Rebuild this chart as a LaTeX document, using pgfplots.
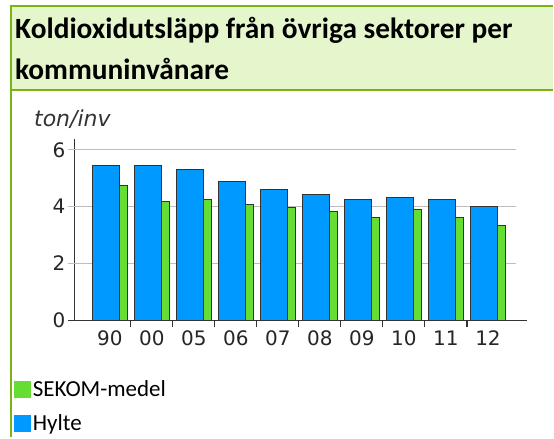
\documentclass[border=0pt]{standalone}
\usepackage{fontspec}
\setmainfont{Carlito}
\newfontfamily\dejavu{DejaVu Sans}
\usepackage{pgfplots}
\pgfplotsset{compat=1.18}
\definecolor{blueH}{RGB}{0,153,255}
\definecolor{greenS}{RGB}{102,221,51}
\definecolor{titlebg}{RGB}{230,246,204}
\definecolor{bordergreen}{RGB}{125,178,22}
\definecolor{gridgray}{RGB}{190,190,190}
\begin{document}
\begin{tikzpicture}[x=1pt,y=1pt]
\fill[white] (0,0) rectangle (554,438);
\fill[titlebg] (10.7,432) rectangle (554,348);
\draw[bordergreen, line width=2pt] (554,432) -- (10.7,432) -- (10.7,0);
\draw[bordergreen, line width=1.5pt] (10.7,348) -- (554,348);
\node[anchor=base west, inner sep=0, font=\bfseries\fontsize{29.4}{30}\selectfont] at (15,399) {Koldioxidutsläpp från övriga sektorer per};
\node[anchor=base west, inner sep=0, font=\bfseries\fontsize{29.4}{30}\selectfont] at (15,358) {kommuninvånare};
\begin{axis}[
  at={(75pt,117.3pt)}, anchor=south west,
  scale only axis, width=453pt, height=181.4pt,
  xmin=-0.831, xmax=9.93, ymin=0, ymax=6.38,
  clip=false,
  axis x line=bottom, axis y line=left,
  axis line style={-, black!80, line width=1.1pt},
  /pgf/number format/assume math mode=true,
  ytick={0,2,4,6},
  ytick style={draw=none},
  yticklabel style={font=\dejavu\fontsize{20}{22}\selectfont, color=black!85, anchor=east, xshift=-4pt},
  xtick={0,...,9},
  xticklabels={90,00,05,06,07,08,09,10,11,12},
  major x tick style={draw=none},
  minor xtick={0.5,1.5,...,8.5},
  minor tick length=7pt,
  xtick align=outside,
  minor x tick style={black!80, line width=1.1pt},
  xticklabel style={font=\dejavu\fontsize{20}{22}\selectfont, color=black!85, yshift=-3pt},
  ylabel={ton/inv},
  ylabel style={rotate=-90, at={(axis description cs:-0.0905,1.068)}, anchor=base west, inner sep=0, font=\dejavu\itshape\fontsize{22}{24}\selectfont, color=black!80},
  legend style={at={(axis description cs:-0.1347,-0.325)}, anchor=north west, draw=none, fill=none, inner sep=0pt, outer sep=0pt, font=\fontsize{23}{25}\selectfont, row sep=12pt, legend cell align=left, /tikz/every even column/.append style={column sep=0pt}},
  legend image code/.code={\fill[#1, draw=none] (0pt,-8.5pt) rectangle (17pt,8.5pt);},
]
\draw[gridgray, line width=1.2pt] (axis cs:-0.998,2) -- (axis cs:9.667,2);
\draw[gridgray, line width=1.2pt] (axis cs:-0.998,4) -- (axis cs:9.667,4);
\draw[gridgray, line width=1.2pt] (axis cs:-0.998,6) -- (axis cs:9.667,6);
\draw[black!80, line width=1.1pt] (axis cs:-0.998,0) -- (axis cs:-0.831,0);
\addplot[ybar, bar width=8pt, bar shift=13.3pt, fill=greenS, draw=black!80, line width=1pt]
  coordinates {(0,4.73) (1,4.17) (2,4.24) (3,4.09) (4,3.97) (5,3.82) (6,3.61) (7,3.89) (8,3.61) (9,3.33)};
\addlegendentry{SEKOM-medel}
\addplot[ybar, bar width=26.6pt, bar shift=-4pt, fill=blueH, draw=black!80, line width=1pt]
  coordinates {(0,5.44) (1,5.44) (2,5.30) (3,4.89) (4,4.59) (5,4.44) (6,4.24) (7,4.31) (8,4.24) (9,4.02)};
\addlegendentry{Hylte}
\end{axis}
\end{tikzpicture}
\end{document}
